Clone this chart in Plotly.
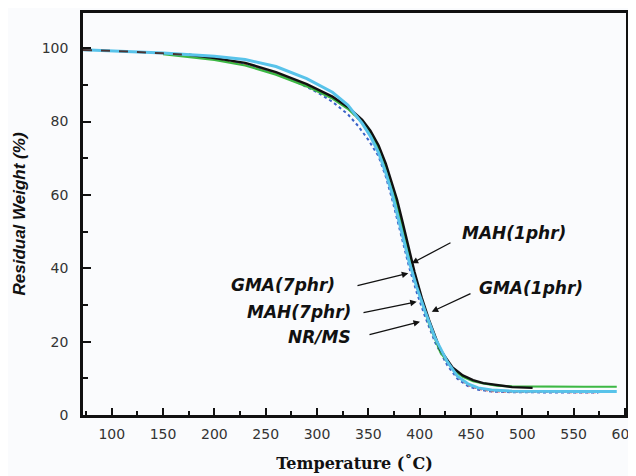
import plotly.graph_objects as go

# ---------------- data ----------------
mah1_T = [72, 100, 150, 175, 200, 230, 260, 290, 315, 330, 344, 352, 360, 367, 373, 378, 383, 389, 395, 402, 409, 420, 432, 442, 452, 462, 475, 490, 510]
mah1_W = [99.5, 99.3, 98.6, 98.2, 97.3, 96.0, 93.5, 90.2, 86.8, 84.0, 80.5, 77.5, 73.5, 68.5, 63.0, 58.7, 53.0, 46.0, 39.0, 32.0, 26.0, 17.8, 13.0, 10.8, 9.5, 8.7, 8.1, 7.6, 7.4]

gma1_T = [150, 200, 230, 260, 290, 315, 330, 344, 352, 360, 367, 373, 378, 383, 389, 395, 402, 409, 420, 432, 442, 452, 462, 475, 490, 520, 560, 592]
gma1_W = [98.4, 96.8, 95.3, 92.8, 89.6, 86.3, 83.5, 79.8, 76.8, 72.5, 67.5, 62.0, 57.5, 51.5, 44.5, 38.0, 31.0, 25.0, 17.2, 12.5, 10.4, 9.2, 8.6, 8.0, 7.8, 7.7, 7.7, 7.7]

gma7_T = [72, 100, 150, 200, 230, 260, 290, 315, 330, 344, 352, 360, 367, 373, 378, 384, 390, 397, 405, 415, 427, 437, 447, 457, 470, 490, 520, 560, 592]
gma7_W = [99.6, 99.3, 98.7, 97.8, 96.9, 95.0, 91.7, 88.0, 84.5, 79.5, 76.0, 71.5, 66.0, 60.5, 54.8, 48.0, 41.5, 35.0, 28.5, 21.0, 14.5, 10.5, 8.5, 7.4, 6.8, 6.5, 6.4, 6.4, 6.4]

mah7_T = [200, 230, 260, 290, 315, 330, 344, 352, 360, 367, 373, 378, 384, 390, 397, 405, 415, 427, 437, 447, 457, 470, 490, 520, 550, 575]
mah7_W = [97.0, 95.6, 93.0, 89.7, 86.5, 83.8, 79.5, 76.0, 71.5, 66.0, 60.5, 54.8, 48.0, 41.5, 35.0, 28.5, 21.0, 14.5, 10.3, 8.2, 7.1, 6.5, 6.3, 6.2, 6.2, 6.2]

nrms_T = [220, 250, 280, 300, 315, 330, 340, 350, 360, 367, 373, 378, 384, 390, 397, 405, 415, 427, 437, 447, 457, 470, 490, 520, 550, 574]
nrms_W = [96.2, 94.0, 90.8, 88.0, 85.4, 82.0, 78.8, 75.0, 70.5, 65.0, 59.0, 53.5, 46.5, 40.0, 33.5, 27.0, 19.8, 13.5, 9.8, 7.9, 6.9, 6.4, 6.2, 6.1, 6.1, 6.1]

x_ticks = [100, 150, 200, 250, 300, 350, 400, 450, 500, 550, 600]
y_ticks = [0, 20, 40, 60, 80, 100]

labels = ["MAH(1phr)", "GMA(1phr)", "GMA(7phr)", "MAH(7phr)", "NR/MS"]

# ---------------- layout helpers ----------------
X0, X1 = 72, 601
Y0, Y1 = 0, 109.6
# plot-area edges in window pixels
L, R, T, B = 83, 626, 13, 415
W_FIG, H_FIG = 636, 476
OFF = 8  # default page (body) margin of the html file


def px2x(px):
    return X0 + (px - L) * (X1 - X0) / (R - L)


def py2y(py):
    return Y0 + (B - py) * (Y1 - Y0) / (B - T)


fig = go.Figure()
fig.add_trace(go.Scatter(x=nrms_T, y=nrms_W, mode="lines", name="NR/MS",
                         line=dict(color="#3a62c8", width=2, dash="dot")))
fig.add_trace(go.Scatter(x=mah7_T, y=mah7_W, mode="lines", name="MAH(7phr)",
                         line=dict(color="#e0453f", width=2, dash="dot")))
fig.add_trace(go.Scatter(x=gma1_T, y=gma1_W, mode="lines", name="GMA(1phr)",
                         line=dict(color="#3cb844", width=2.2)))
split = mah1_T.index(175)
fig.add_trace(go.Scatter(x=mah1_T[split:], y=mah1_W[split:], mode="lines", name="MAH(1phr)",
                         line=dict(color="#111111", width=2.4)))
fig.add_trace(go.Scatter(x=gma7_T, y=gma7_W, mode="lines", name="GMA(7phr)",
                         line=dict(color="#58c3ea", width=3)))
fig.add_trace(go.Scatter(x=mah1_T[:split + 1], y=mah1_W[:split + 1], mode="lines", showlegend=False,
                         line=dict(color="#4a3434", width=2, dash="dash")))

ann_font = dict(family="DejaVu Sans", size=17, color="#111111")
texts = [
    # text, anchor px x, anchor px y, xanchor
    ("MAH(1phr)", 460, 233, "left"),
    ("GMA(1phr)", 477, 288, "left"),
    ("GMA(7phr)", 337, 285, "right"),
    ("MAH(7phr)", 353, 311.5, "right"),
    ("NR/MS", 353, 337, "right"),
]
arrows = [
    # tail px, head px
    ((452, 242), (411.7, 263.3)),
    ((472, 293), (431.7, 311.7)),
    ((356, 286), (408.3, 273.3)),
    ((362, 313), (416.7, 301.7)),
    ((368, 335), (420, 321.7)),
]
annotations = []
for (txt, ax_, ay_, xa) in texts:
    annotations.append(dict(x=px2x(ax_), y=py2y(ay_), xref="x", yref="y",
                            text="<b><i>" + txt + "</i></b>", showarrow=False,
                            xanchor=xa, yanchor="middle", font=ann_font))
for (tail, head) in arrows:
    annotations.append(dict(x=px2x(head[0]), y=py2y(head[1]), xref="x", yref="y",
                            ax=px2x(tail[0]), ay=py2y(tail[1]), axref="x", ayref="y",
                            text="", showarrow=True, arrowhead=2, arrowsize=1,
                            arrowwidth=1.3, arrowcolor="#111111", standoff=0))

fig.update_layout(
    width=W_FIG, height=H_FIG,
    margin=dict(l=L - OFF, r=W_FIG - (R - OFF), t=T - OFF, b=H_FIG - (B - OFF), pad=0),
    paper_bgcolor="#fafbfd", plot_bgcolor="#fafbfd",
    showlegend=False,
    annotations=annotations,
    font=dict(family="DejaVu Sans", size=14, color="#333333"),
)
fig.update_xaxes(
    range=[X0, X1], tickvals=x_ticks, ticktext=[str(v) for v in x_ticks],
    automargin=False,
    showgrid=False, zeroline=False,
    showline=True, mirror=True, linecolor="#111111", linewidth=2.5,
    ticks="inside", ticklen=7, tickwidth=2, tickcolor="#111111",
    minor=dict(dtick=25, tick0=0, ticks="inside", ticklen=4, tickwidth=2, tickcolor="#111111"),
    ticklabelstandoff=4,
    tickfont=dict(family="DejaVu Sans", size=14, color="#333333"),
    title=dict(text="<b>Temperature (˚C)</b>", standoff=18,
               font=dict(family="DejaVu Serif", size=16, color="#111111")),
)
fig.update_yaxes(
    range=[Y0, Y1], tickvals=y_ticks, ticktext=[str(v) for v in y_ticks],
    automargin=False,
    showgrid=False, zeroline=False,
    showline=True, mirror=True, linecolor="#111111", linewidth=2.5,
    ticks="inside", ticklen=8, tickwidth=2, tickcolor="#111111",
    minor=dict(dtick=10, tick0=0, ticks="inside", ticklen=5, tickwidth=2, tickcolor="#111111"),
    ticklabelstandoff=9,
    tickfont=dict(family="DejaVu Sans", size=14, color="#333333"),
    title=dict(text="<b><i>Residual Weight (%)</i></b>", standoff=12,
               font=dict(family="Liberation Sans", size=17, color="#111111")),
)

fig.write_html("out.html")
